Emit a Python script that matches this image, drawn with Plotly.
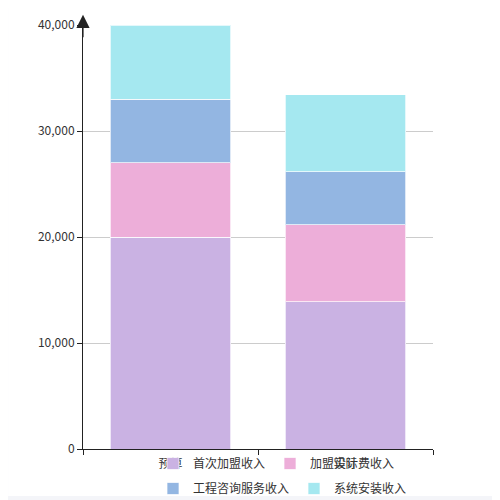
import plotly.graph_objects as go

# categories and stacked series
categories = ['预算', '实际']
series_names = ['首次加盟收入', '加盟设计费收入', '工程咨询服务收入', '系统安装收入']
first_join = [20000, 13900]
design_fee = [7000, 7250]
consulting = [6000, 5000]
install = [7000, 7250]
y_ticks = [0, 10000, 20000, 30000, 40000]

colors = ['#CAB2E3', '#EDAED9', '#93B6E2', '#A5E8F0']
values = [first_join, design_fee, consulting, install]
legends = ['legend', 'legend', 'legend2', 'legend2']

fig = go.Figure()
for name, vals, color, lg in zip(series_names, values, colors, legends):
    fig.add_trace(go.Bar(
        x=categories,
        y=vals,
        name=name,
        marker=dict(color=color, line=dict(color='rgba(255,255,255,0.7)', width=1)),
        legend=lg,
        hoverinfo='skip',
    ))

# white card on a light grey page
fig.add_shape(
    type='rect', xref='paper', yref='paper',
    x0=-0.214, x1=1.3, y0=-0.111, y1=1.1,
    fillcolor='white', line=dict(width=0), layer='below',
)

# arrow on top of the y axis
fig.add_annotation(
    xref='paper', yref='paper', x=0, y=1.024,
    ax=0, ay=24, axref='pixel', ayref='pixel',
    showarrow=True, arrowhead=2, arrowsize=2.2, arrowwidth=1.2,
    arrowcolor='#222', text='',
)

legend_font = dict(size=12, color='#333')
fig.update_layout(
    width=500,
    height=500,
    barmode='stack',
    bargap=0.314,
    paper_bgcolor='#F4F5F9',
    plot_bgcolor='white',
    font=dict(family='Noto Sans CJK SC, sans-serif', size=12, color='#333'),
    margin=dict(l=75, r=75, t=17, b=59, autoexpand=False),
    showlegend=True,
    legend=dict(
        orientation='h', x=0.2, xanchor='left', y=0, yanchor='top',
        traceorder='normal', font=legend_font, bgcolor='rgba(0,0,0,0)',
    ),
    legend2=dict(
        orientation='h', x=0.2, xanchor='left', y=-0.059, yanchor='top',
        traceorder='normal', font=legend_font, bgcolor='rgba(0,0,0,0)',
    ),
    xaxis=dict(
        showline=True, linecolor='#222', linewidth=1,
        ticks='outside', ticklen=5, tickcolor='#222',
        tickson='boundaries', showgrid=False,
        ticklabelstandoff=4,
        tickfont=dict(size=12, color='#333'),
    ),
    yaxis=dict(
        range=[0, 40000],
        tickvals=y_ticks,
        tickformat=',',
        showline=True, linecolor='#222', linewidth=1,
        ticks='outside', ticklen=5, tickcolor='#222',
        showgrid=True, gridcolor='#CCCCCC', gridwidth=1,
        zeroline=False,
        tickfont=dict(size=12, color='#333'),
    ),
)

fig.write_html('out.html')
